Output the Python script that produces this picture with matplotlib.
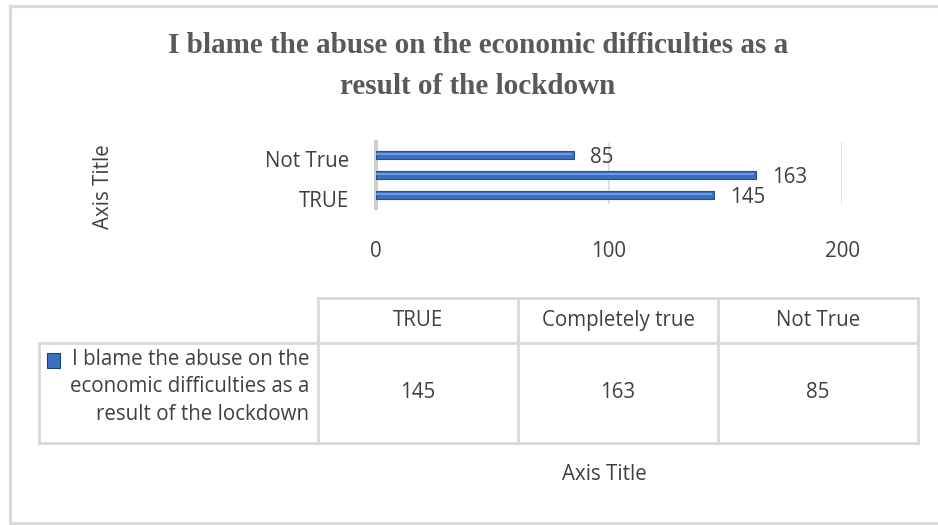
"""
Horizontal bar chart with a data table underneath (Excel style).
"""

import matplotlib
matplotlib.use("Agg")
import matplotlib.pyplot as plt
import matplotlib.transforms as mtransforms
from matplotlib.lines import Line2D
from matplotlib.patches import Rectangle


matplotlib.rcParams["font.family"] = ["Open Sans", "DejaVu Sans"]

TITLE = "I blame the abuse on the economic difficulties as a\nresult of the lockdown"
SERIES = "I blame the abuse on the\neconomic difficulties as a\nresult of the lockdown"
CATEGORIES = ["TRUE", "Completely true", "Not True"]
VALUES = [145, 163, 85]
X_TICKS = [0, 100, 200]

W, H = 938, 525

TEXT = "#404040"
TITLE_C = "#595959"
GRID = "#d9d9d9"
BAR = "#3a6fc0"
BAR_EDGE = "#24508f"
BAR_HI = "#6f9be0"
FS = 14.8


def fx(px):
    return px / W


def fy(py):
    return 1 - py / H


def main():
    fig = plt.figure(figsize=(W / 100, H / 100), dpi=100)
    fig.patch.set_facecolor("white")

    # outer chart frame (right edge is cut off)
    for xs, ys in (([10, 10], [6, 523]), ([10, 938], [6, 6]), ([10, 938], [523, 523])):
        fig.add_artist(Line2D([fx(v) for v in xs], [fy(v) for v in ys],
                              color="#dadada", linewidth=2.2))

    fig.text(fx(478), fy(66), TITLE, ha="center", va="center", fontsize=21,
             fontweight="bold", family="Liberation Serif", color=TITLE_C,
             linespacing=1.65)

    # plot area
    ax = fig.add_axes([fx(376), fy(208), fx(466), 66 / H])
    y = list(range(len(CATEGORIES)))
    ax.barh(y, VALUES, height=0.38, color=BAR, edgecolor=BAR_EDGE, linewidth=0.8, zorder=3)
    ax.hlines([yi + 0.07 for yi in y], 0, [v - 0.8 for v in VALUES], color=BAR_HI,
              linewidth=1.4, zorder=4)
    for yi, v in zip(y, VALUES):
        ax.annotate(str(v), (v, yi), xytext=(11.5, -1.5), textcoords="offset points",
                    ha="left", va="center", fontsize=FS, color=TEXT)

    ax.set_xlim(0, 200)
    ax.set_ylim(-0.65, 2.65)
    ax.set_xticks(X_TICKS)
    ax.set_xticklabels([str(t) for t in X_TICKS], fontsize=FS, color=TEXT)
    ax.set_yticks([0, 2])
    ax.set_yticklabels([CATEGORIES[0], CATEGORIES[2]], fontsize=FS, color=TEXT)
    ax.tick_params(axis="x", length=0, pad=24)
    ax.tick_params(axis="y", length=0, pad=19)
    shift = mtransforms.ScaledTranslation(0, -4 / 100, fig.dpi_scale_trans)
    for lbl in ax.get_yticklabels():
        lbl.set_transform(lbl.get_transform() + shift)
    for xv in X_TICKS[1:]:
        ax.axvline(xv, ymin=0.08, ymax=0.98, color=GRID, linewidth=1.2, zorder=1)
    for side in ("top", "right", "bottom"):
        ax.spines[side].set_visible(False)
    ax.spines["left"].set_color("#cfcfcf")
    ax.spines["left"].set_linewidth(3)
    ax.patch.set_alpha(0)

    fig.text(fx(103), fy(187), "Axis Title", rotation=90, ha="center", va="center",
             fontsize=FS, color=TEXT)
    fig.text(fx(604), fy(475), "Axis Title", ha="center", va="center",
             fontsize=FS, color=TEXT)

    # data table
    cols = [39, 318, 518, 718, 918]
    rows = [298, 343, 443]
    lw = 2.0
    fig.add_artist(Line2D([fx(cols[1]), fx(cols[-1])], [fy(rows[0])] * 2, color=GRID, linewidth=lw))
    for r in rows[1:]:
        fig.add_artist(Line2D([fx(cols[0]), fx(cols[-1])], [fy(r)] * 2, color=GRID, linewidth=lw))
    fig.add_artist(Line2D([fx(cols[0])] * 2, [fy(rows[1]), fy(rows[2])], color=GRID, linewidth=lw))
    for c in cols[1:]:
        fig.add_artist(Line2D([fx(c)] * 2, [fy(rows[0]), fy(rows[2])], color=GRID, linewidth=lw))

    for i, (cat, v) in enumerate(zip(CATEGORIES, VALUES)):
        cx = (cols[i + 1] + cols[i + 2]) / 2
        fig.text(fx(cx), fy((rows[0] + rows[1]) / 2), cat, ha="center", va="center",
                 fontsize=FS, color=TEXT)
        fig.text(fx(cx), fy((rows[1] + rows[2]) / 2), str(v), ha="center", va="center",
                 fontsize=FS, color=TEXT)

    fig.add_artist(Rectangle((fx(47), fy(368)), fx(13), 15 / H, facecolor=BAR,
                             edgecolor="#1f3f73", linewidth=0.8))
    fig.text(fx(309), fy(387), SERIES, ha="right", va="center", multialignment="right",
             fontsize=FS, color=TEXT, linespacing=1.42)

    fig.savefig("out.png", dpi=100, facecolor="white")
    plt.close(fig)


if __name__ == "__main__":
    main()
